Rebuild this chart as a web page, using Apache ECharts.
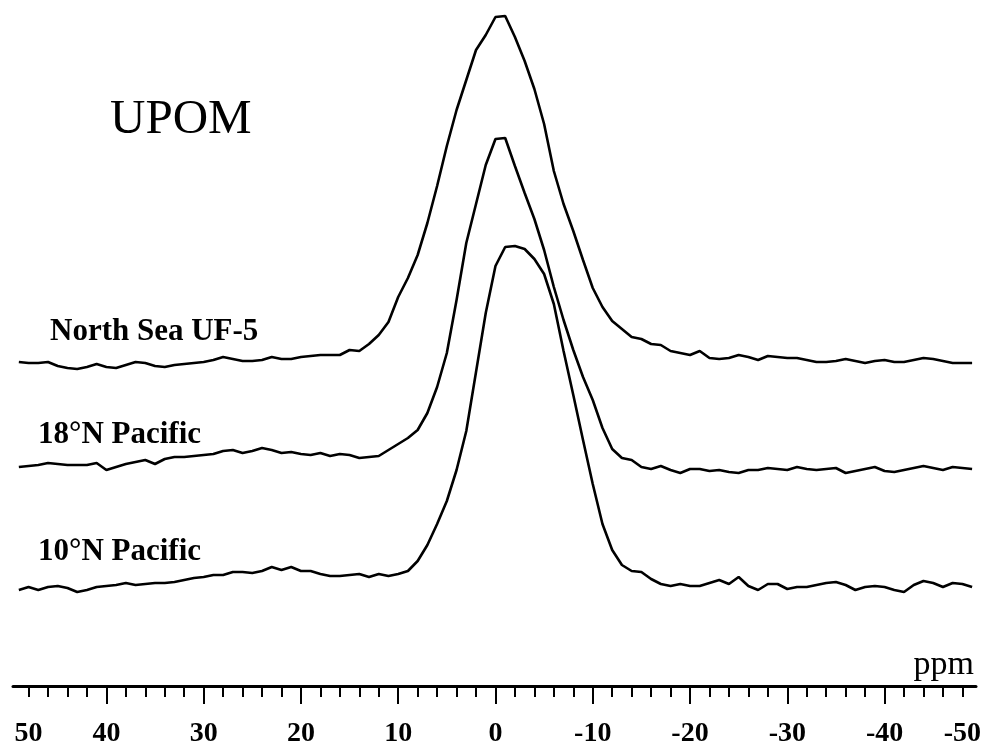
<!DOCTYPE html>
<html>
<head>
<meta charset="utf-8">
<script src="https://cdn.jsdelivr.net/npm/echarts@6/dist/echarts.min.js"></script>
<style>
html,body{margin:0;padding:0;background:#fff;}
#chart{width:982px;height:746px;}
</style>
</head>
<body>
<div id="chart"></div>
<script>
// chemical shift grid (ppm)
const ppm = [49,48,47,46,45,44,43,42,41,40,39,38,37,36,35,34,33,32,31,30,29,28,27,26,25,24,23,22,21,20,19,18,17,16,15,14,13,12,11,10,9,8,7,6,5,4,3,2,1,0,-1,-2,-3,-4,-5,-6,-7,-8,-9,-10,-11,-12,-13,-14,-15,-16,-17,-18,-19,-20,-21,-22,-23,-24,-25,-26,-27,-28,-29,-30,-31,-32,-33,-34,-35,-36,-37,-38,-39,-40,-41,-42,-43,-44,-45,-46,-47,-48,-49];

// spectrum intensities (arbitrary units, relative to each baseline)
const northSea = [0,-1,-1,0,-4,-6,-7,-5,-2,-5,-6,-3,0,-1,-4,-5,-3,-2,-1,0,2,5,3,1,1,2,5,3,3,5,6,7,7,7,12,11,18,27,40,65,84,107,139,176,216,252,282,312,327,345,346,325,301,273,238,191,158,131,102,74,55,41,33,25,23,18,17,11,9,7,11,4,3,4,7,5,2,6,5,4,4,2,0,0,1,3,1,-1,1,2,0,0,2,4,3,1,-1,-1,-1];
const pac18 = [1,2,3,5,4,3,3,3,5,-2,1,4,6,8,4,9,11,11,12,13,14,17,18,15,17,20,18,15,16,14,13,15,12,14,13,10,11,12,18,24,30,38,55,81,115,168,225,264,303,329,330,302,275,249,218,181,148,118,91,68,40,19,10,8,1,-1,2,-2,-5,-1,-1,-3,-2,-4,-5,-2,-2,0,-1,-2,1,-1,-2,-1,0,-5,-3,-1,1,-3,-4,-2,0,2,0,-2,1,0,-1];
const pac10 = [-4,-1,-4,-1,0,-2,-6,-4,-1,0,1,3,1,2,3,3,4,6,8,9,11,11,14,14,13,15,19,16,19,15,15,12,10,10,11,12,9,12,10,12,15,25,41,62,85,116,155,214,273,320,339,340,337,327,312,282,235,191,146,102,62,36,21,15,14,7,2,0,2,0,0,3,6,2,9,0,-4,2,2,-3,-1,-1,1,3,4,1,-4,-1,0,-1,-4,-6,1,5,3,-1,3,2,-1];

const seriesNames = ['North Sea UF-5', '18°N Pacific', '10°N Pacific'];
const seriesValues = [northSea, pac18, pac10];
const stackOffsets = [324, 218, 100];

// axis ticks and labels
const minorTicks = [48,46,44,42,38,36,34,32,28,26,24,22,18,16,14,12,8,6,4,2,-2,-4,-6,-8,-12,-14,-16,-18,-22,-24,-26,-28,-32,-34,-36,-38,-42,-44,-46,-48];
const majorTicks = [40,30,20,10,0,-10,-20,-30,-40];
const tickLabelPos = [48,40,30,20,10,0,-10,-20,-30,-40,-48];
const tickLabels = ['50','40','30','20','10','0','-10','-20','-30','-40','-50'];

const serif = '"Liberation Serif","Times New Roman",serif';

const chart = echarts.init(document.getElementById('chart'), null, {renderer: 'canvas'});

const series = seriesValues.map((vals, k) => ({
  name: seriesNames[k],
  type: 'line',
  xAxisIndex: 0,
  yAxisIndex: 0,
  showSymbol: false,
  symbol: 'none',
  smooth: false,
  lineStyle: {color: '#000', width: 2.6},
  data: ppm.map((p, i) => [p, stackOffsets[k] + vals[i]]),
  animation: false
}));

const baseX = {
  type: 'value',
  inverse: true,
  min: -49.4,
  max: 49.6,
  position: 'bottom',
  splitLine: {show: false}
};

chart.setOption({
  animation: false,
  backgroundColor: '#fff',
  grid: {left: 13, right: 6, top: 0, bottom: 60, containLabel: false, outerBoundsMode: 'none'},
  xAxis: [
    Object.assign({}, baseX, {
      axisLine: {show: true, lineStyle: {color: '#000', width: 3}},
      axisTick: {show: true, inside: false, length: 11, customValues: minorTicks, lineStyle: {color: '#000', width: 2}},
      axisLabel: {
        show: true,
        customValues: tickLabelPos,
        margin: 34,
        color: '#000',
        fontFamily: serif,
        fontWeight: 'bold',
        fontSize: 28,
        formatter: function (v) {
          let best = 0, d = 1e9;
          tickLabelPos.forEach((t, i) => { if (Math.abs(t - v) < d) { d = Math.abs(t - v); best = i; } });
          return tickLabels[best];
        }
      }
    }),
    Object.assign({}, baseX, {
      axisLine: {show: false},
      axisTick: {show: true, inside: false, length: 18, customValues: majorTicks, lineStyle: {color: '#000', width: 2}},
      axisLabel: {show: false}
    })
  ],
  yAxis: {type: 'value', min: 0, max: 686, show: false},
  graphic: [
    {type: 'text', left: 110, top: 96, style: {text: 'UPOM', font: 'normal 49px ' + serif, fill: '#000'}},
    {type: 'text', left: 50, top: 316, style: {text: seriesNames[0], font: 'bold 31px ' + serif, fill: '#000'}},
    {type: 'text', left: 38, top: 419, style: {text: seriesNames[1], font: 'bold 31px ' + serif, fill: '#000'}},
    {type: 'text', left: 38, top: 536, style: {text: seriesNames[2], font: 'bold 31px ' + serif, fill: '#000'}},
    {type: 'text', right: 8, top: 648, style: {text: 'ppm', font: 'normal 34px ' + serif, fill: '#000'}}
  ],
  series: series
});
</script>
</body>
</html>
